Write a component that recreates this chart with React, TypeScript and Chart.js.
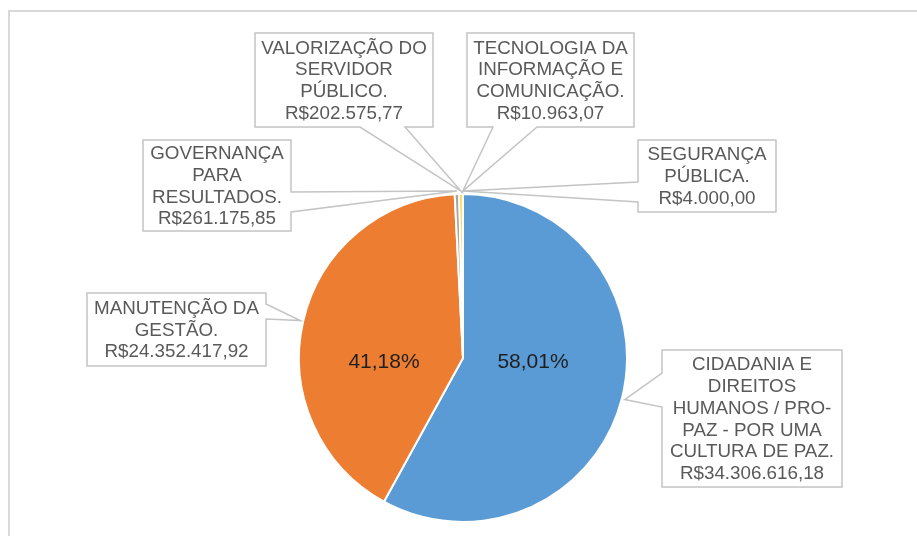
import React, { useEffect, useRef } from "react";
import { Chart, registerables } from "chart.js";

Chart.register(...registerables);

const categories: string[][] = [
  ["CIDADANIA E", "DIREITOS", "HUMANOS / PRO-", "PAZ - POR UMA", "CULTURA DE PAZ"],
  ["MANUTENÇÃO DA", "GESTÃO"],
  ["GOVERNANÇA", "PARA", "RESULTADOS"],
  ["VALORIZAÇÃO DO", "SERVIDOR", "PÚBLICO"],
  ["TECNOLOGIA DA", "INFORMAÇÃO E", "COMUNICAÇÃO"],
  ["SEGURANÇA", "PÚBLICA"],
];
const values: number[] = [34306616.18, 24352417.92, 261175.85, 202575.77, 10963.07, 4000.0];
const colors: string[] = ["#5B9BD5", "#ED7D31", "#A5A5A5", "#FFC000", "#4472C4", "#70AD47"];
const percentShown: boolean[] = [true, true, false, false, false, false];

function formatBRL(v: number): string {
  const fixed = v.toFixed(2);
  const [intPart, dec] = fixed.split(".");
  const withSep = intPart.replace(/\B(?=(\d{3})+(?!\d))/g, ".");
  return "R$" + withSep + "," + dec;
}

type Callout = { x: number; y: number; w: number; h: number; side: "left" | "right" | "bottom"; b1: number; b2: number };
const calloutLayout: Callout[] = [
  { x: 662, y: 350, w: 180, h: 137, side: "left", b1: 373, b2: 407 },
  { x: 87, y: 293, w: 179, h: 73, side: "right", b1: 304, b2: 319 },
  { x: 143, y: 140, w: 148, h: 91, side: "right", b1: 192, b2: 212 },
  { x: 255, y: 33, w: 178, h: 94, side: "bottom", b1: 360, b2: 405 },
  { x: 467, y: 33, w: 167, h: 94, side: "bottom", b1: 493, b2: 537 },
  { x: 638, y: 140, w: 138, h: 72, side: "left", b1: 182, b2: 202 },
];
const percentOffset: number[][] = [[70, 4], [-79, 4]];

const FONT = '"Liberation Sans", Arial, sans-serif';

const calloutPlugin = {
  id: "callouts",
  beforeDraw(chart: any) {
    const ctx = chart.ctx;
    ctx.save();
    ctx.strokeStyle = "#D9D9D9";
    ctx.lineWidth = 2;
    ctx.strokeRect(9, 11, 2000, 2000);
    ctx.restore();
  },
  afterDatasetsDraw(chart: any) {
    const ctx = chart.ctx;
    const meta = chart.getDatasetMeta(0);
    const total = values.reduce((a, b) => a + b, 0);
    const paths: Path2D[] = [];
    meta.data.forEach((arc: any, i: number) => {
      const L = calloutLayout[i];
      const mid = (arc.startAngle + arc.endAngle) / 2;
      const r = arc.outerRadius + 3;
      const tx = arc.x + Math.cos(mid) * r;
      const ty = arc.y + Math.sin(mid) * r;
      const p = new Path2D();
      const { x, y, w, h } = L;
      if (L.side === "bottom") {
        p.moveTo(x, y);
        p.lineTo(x + w, y);
        p.lineTo(x + w, y + h);
        p.lineTo(L.b2, y + h);
        p.lineTo(tx, ty);
        p.lineTo(L.b1, y + h);
        p.lineTo(x, y + h);
      } else if (L.side === "right") {
        p.moveTo(x, y);
        p.lineTo(x + w, y);
        p.lineTo(x + w, L.b1);
        p.lineTo(tx, ty);
        p.lineTo(x + w, L.b2);
        p.lineTo(x + w, y + h);
        p.lineTo(x, y + h);
      } else {
        p.moveTo(x, y);
        p.lineTo(x + w, y);
        p.lineTo(x + w, y + h);
        p.lineTo(x, y + h);
        p.lineTo(x, L.b2);
        p.lineTo(tx, ty);
        p.lineTo(x, L.b1);
      }
      p.closePath();
      paths.push(p);
    });
    ctx.save();
    ctx.fillStyle = "#FFFFFF";
    paths.forEach((p) => ctx.fill(p));
    ctx.strokeStyle = "#C4C4C4";
    ctx.lineWidth = 1.5;
    paths.forEach((p) => ctx.stroke(p));

    ctx.fillStyle = "#595959";
    ctx.font = "18.8px " + FONT;
    ctx.textAlign = "center";
    ctx.textBaseline = "middle";
    const lh = 21.7;
    categories.forEach((cat, i) => {
      const L = calloutLayout[i];
      const lines = cat.slice();
      lines[lines.length - 1] = lines[lines.length - 1] + ".";
      lines.push(formatBRL(values[i]));
      const cx = L.x + L.w / 2;
      const cy = L.y + L.h / 2;
      const first = cy - ((lines.length - 1) / 2) * lh;
      lines.forEach((t, j) => ctx.fillText(t, cx, first + j * lh + 1));
    });

    ctx.fillStyle = "#1F1F1F";
    ctx.font = "21px " + FONT;
    let k = 0;
    meta.data.forEach((arc: any, i: number) => {
      if (!percentShown[i]) return;
      const off = percentOffset[k++];
      const pct = ((values[i] / total) * 100).toFixed(2).replace(".", ",") + "%";
      ctx.fillText(pct, arc.x + off[0], arc.y + off[1]);
    });
    ctx.restore();
  },
};

export default function App() {
  const ref = useRef<HTMLCanvasElement | null>(null);
  useEffect(() => {
    if (!ref.current) return;
    const chart = new Chart(ref.current, {
      type: "pie",
      data: {
        labels: categories.map((c) => c.join(" ")),
        datasets: [
          {
            data: values,
            backgroundColor: colors,
            borderColor: "#FFFFFF",
            borderWidth: 2,
          },
        ],
      },
      options: {
        responsive: false,
        animation: false,
        events: [],
        layout: { padding: { left: 298, right: 289, top: 193, bottom: 13 } },
        plugins: {
          legend: { display: false },
          tooltip: { enabled: false },
        },
      },
      plugins: [calloutPlugin],
    });
    return () => chart.destroy();
  }, []);
  return (
    <div style={{ position: "absolute", left: 0, top: 0, width: 917, height: 536, background: "#fff", overflow: "hidden" }}>
      <canvas ref={ref} width={917} height={536} style={{ display: "block" }} />
    </div>
  );
}
